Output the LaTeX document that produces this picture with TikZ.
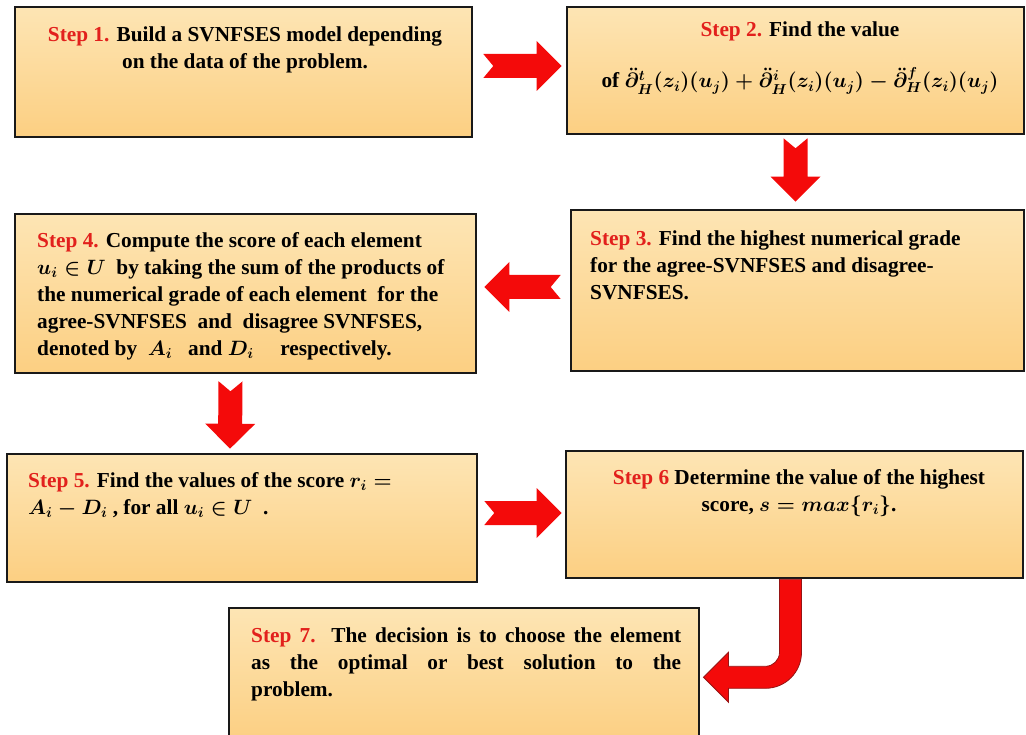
\documentclass[tikz,border=0pt]{standalone}
\usepackage{fontspec}
\setmainfont{Liberation Serif}[BoldFont={Liberation Serif Bold}]
\usetikzlibrary{calc,fit}

\definecolor{steptop}{RGB}{253,229,180}
\definecolor{stepbot}{RGB}{252,207,130}
\definecolor{stepred}{RGB}{226,32,28}
\definecolor{arrowred}{RGB}{244,10,10}
\definecolor{arrowedge}{RGB}{150,20,20}

% red step label
\newcommand{\st}[1]{\textcolor{stepred}{Step #1}}

% notched block arrow from #1 to #2
\newcommand{\blockarrow}[2]{%
  \path[flow] let \p1=#1, \p2=#2,
      \n1={atan2(\y2-\y1,\x2-\x1)}, \n2={veclen(\x2-\x1,\y2-\y1)} in
    [shift={(\p1)}, rotate=\n1]
    (0,-12) -- (\n2-25,-12) -- (\n2-25,-25) -- (\n2,0)
    -- (\n2-25,25) -- (\n2-25,12) -- (0,12) -- (10,0) -- cycle;
}

\begin{document}
\begin{tikzpicture}[
    x=1pt, y=-1pt,
    font=\fontsize{21.3}{27}\selectfont\bfseries\boldmath,
    % boxes
    stepbox/.style={
        draw=black!90, line width=2.6pt, inner sep=0pt,
        top color=steptop, bottom color=stepbot
    },
    steptext/.style={inner sep=0pt, align=left, anchor=north west},
    % arrows
    flow/.style={fill=arrowred},
    bentflow/.style={fill=arrowred, draw=arrowedge, line width=0.8pt}
]
\useasboundingbox (0,0) rectangle (1026,735);

% ==========================================
% BOXES
% ==========================================
\node[stepbox, fit={(15,7)(472,137)}] (s1) {};
\node[stepbox, fit={(567,7)(1024,134)}] (s2) {};
\node[stepbox, fit={(571,210)(1024,371)}] (s3) {};
\node[stepbox, fit={(15,214)(476,373)}] (s4) {};
\node[stepbox, fit={(7,454)(477,582)}] (s5) {};
\node[stepbox, fit={(566,451)(1023,578)}] (s6) {};
\node[stepbox, fit={(229,608)(699,742)}] (s7) {};

% ==========================================
% TEXTS
% ==========================================
\node[steptext, anchor=north, align=center] (t1) at (245,27)
    {\st{1.} Build a SVNFSES model depending\\on the data of the problem.};
\node[steptext, anchor=north, align=center] (t2) at (800,22)
    {\st{2.} Find the value\\[24pt]
     of $\ddot{\partial}^{t}_{H}(z_i)\bigl(u_j\bigr)+\ddot{\partial}^{i}_{H}(z_i)\bigl(u_j\bigr)-\ddot{\partial}^{f}_{H}(z_i)\bigl(u_j\bigr)$};
\node[steptext] (t3) at (590,231)
    {\st{3.} Find the highest numerical grade\\
     for the agree-SVNFSES and disagree-\\
     SVNFSES.};
\node[steptext] (t4) at (37,232)
    {\st{4.} Compute the score of each element\\
     $u_i\in U$\ \ by taking the sum of the products of\\
     the numerical grade of each element\ \ for the\\
     agree-SVNFSES\ \ and\ \ disagree SVNFSES,\\
     denoted by\ \ $A_i$\ \ \ and $D_i$\quad\ respectively.};
\node[steptext] (t5) at (28,472)
    {\st{5.} Find the values of the score $r_i=$\\
     $A_i-D_i$ , for all $u_i\in U$\ \ .};
\node[steptext, anchor=north, align=center] (t6) at (799,469)
    {\st{6} Determine the value of the highest\\
     score, $s=max\{r_i\}$.};
\node[steptext, align=justify, text width=430] (t7) at (251,628)
    {\st{7.} The decision is to choose the element\linebreak
     as the optimal or best solution to the\linebreak
     problem.};

% ==========================================
% ARROWS
% ==========================================
\blockarrow{([shift={(10,-6)}]s1.east)}{([shift={(-4,-4.5)}]s2.west)}
\blockarrow{([shift={(0,3)}]s2.south)}{([shift={(-2,-7)}]s3.north)}
\blockarrow{([shift={(-9,-3.5)}]s3.west)}{([shift={(7,-6.5)}]s4.east)}
\blockarrow{([shift={(-15,7)}]s4.south)}{([shift={(-12,-4)}]s5.north)}
\blockarrow{([shift={(6,-5)}]s5.east)}{([shift={(-3,-1.5)}]s6.west)}

% bent arrow from step 6 back to step 7
\draw[bentflow] ([shift={(-15,0)}]s6.south) -- ++(0,73)
    arc[start angle=0, end angle=90, radius=14] -- ++(-37,0)
    -- ++(0,-14) -- ++(-25,25) -- ++(25,25) -- ++(0,-14) -- ++(37,0)
    arc[start angle=90, end angle=0, radius=36] -- ++(0,-73) -- cycle;

\end{tikzpicture}
\end{document}
